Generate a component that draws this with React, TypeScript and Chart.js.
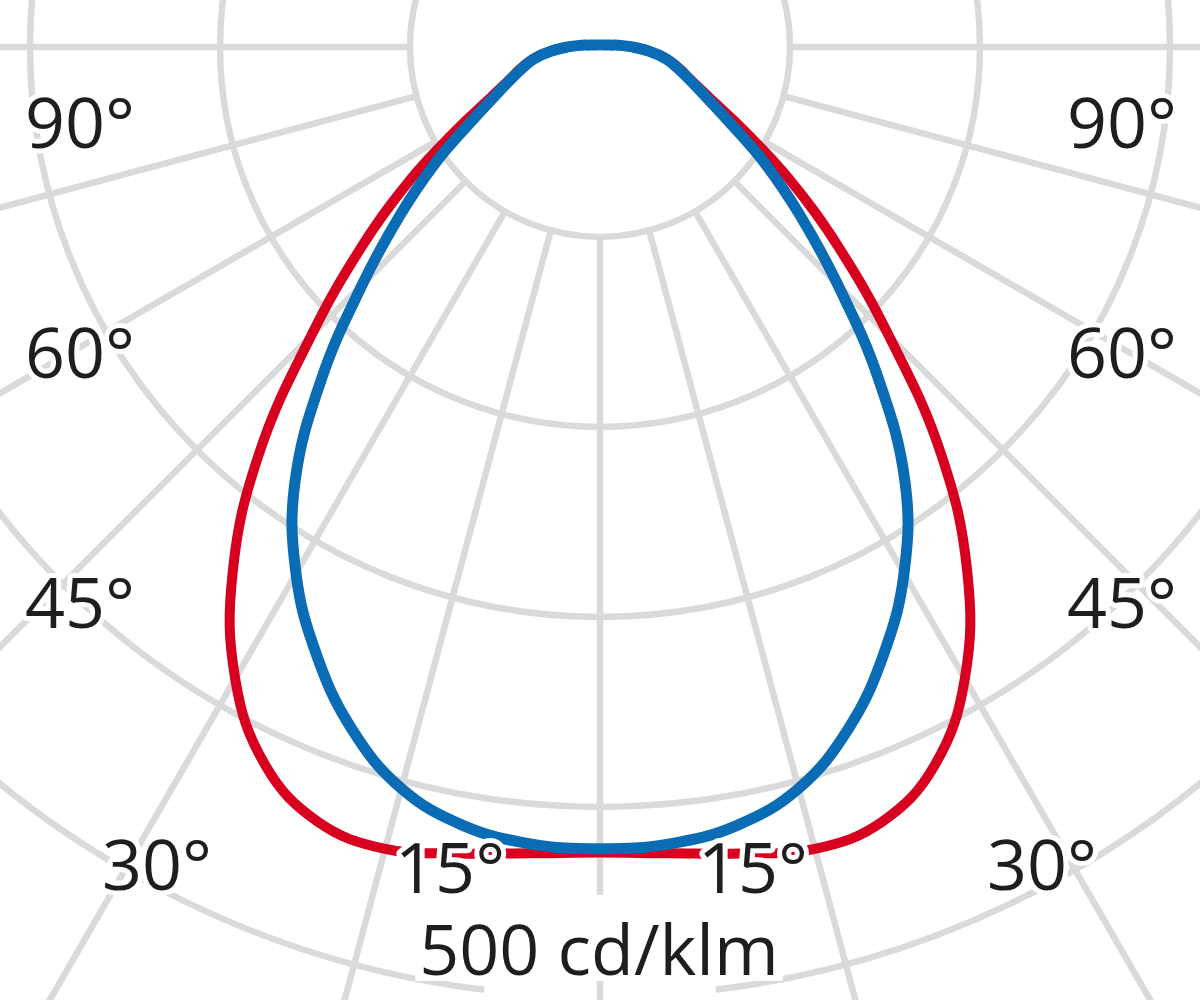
import React, { useEffect, useRef } from 'react';
import { Chart, registerables } from 'chart.js';

Chart.register(...registerables);

// Gamma angles (degrees from nadir); negative = left half of the diagram
const GAMMA = [
  -180, -150, -120, -100, -95, -90, -85, -80, -75, -70, -65, -60, -55, -50, -45, -40, -35, -30, -25, -20, -15, -10, -5,
  0, 5, 10, 15, 20, 25, 30, 35, 40, 45, 50, 55, 60, 65, 70, 75, 80, 85, 90, 95, 100, 120, 150, 180,
];

// Luminous intensity, cd/klm — C0/C180 plane (red)
const PLANE_C0_C180 = [
  1, 1.2, 2, 5.5, 10, 17, 26, 35.5, 43, 51, 64, 87, 122, 164, 215, 279, 337, 384, 417, 434, 437, 431, 426,
  424, 426, 431, 437, 434, 417, 384, 337, 279, 215, 164, 122, 87, 64, 51, 43, 35.5, 26, 17, 10, 5.5, 2, 1.2, 1,
];

// Luminous intensity, cd/klm — C90/C270 plane (blue)
const PLANE_C90_C270 = [
  1, 1.2, 2, 5.5, 10, 17, 26, 35, 42, 50, 61, 78, 105, 137, 177, 228, 280, 320, 353, 382, 404, 416, 421,
  422, 421, 416, 404, 382, 353, 320, 280, 228, 177, 137, 105, 78, 61, 50, 42, 35, 26, 17, 10, 5.5, 2, 1.2, 1,
];

const RING_VALUES = [100, 200, 300, 400, 500, 600];
const SPOKE_ANGLES = [0, 15, 30, 45, 60, 75, 90, 105, 120, 135, 150, 165, 180, 195, 210, 225, 240, 255, 270, 285, 300, 315, 330, 345];
const ANGLE_TICKS = ['90°', '60°', '45°', '30°', '15°'];
const UNIT_LABEL = '500 cd/klm';

// layout (data units, cd/klm), kept apart from the data
const VIEW = { xMin: -315.8, xMax: 315.8, yMin: -501.6, yMax: 24.7 };
const TICK_LAYOUT = [
  { tick: 0, x: -273.7, y: -53.2 },
  { tick: 1, x: -273.7, y: -174.2 },
  { tick: 2, x: -273.7, y: -305.8 },
  { tick: 3, x: -233.2, y: -443.7 },
  { tick: 4, x: -78.9, y: -445.3 },
  { tick: 4, x: 80.5, y: -445.3 },
  { tick: 3, x: 232.6, y: -443.7 },
  { tick: 2, x: 274.7, y: -305.8 },
  { tick: 1, x: 274.7, y: -174.2 },
  { tick: 0, x: 274.7, y: -53.2 },
];
const UNIT_LAYOUT = { x: -0.5, y: -488.4 };

function toXY(gammas: number[], values: number[]) {
  return gammas.map((g, i) => {
    const a = (g * Math.PI) / 180;
    return { x: values[i] * Math.sin(a), y: -values[i] * Math.cos(a) };
  });
}

const polarGrid = {
  id: 'polarGrid',
  beforeDatasetsDraw(chart: any) {
    const { ctx, scales } = chart;
    const sx = scales.x;
    const sy = scales.y;
    const cx = sx.getPixelForValue(0);
    const cy = sy.getPixelForValue(0);
    const k = (sx.getPixelForValue(100) - cx) / 100;
    ctx.save();
    ctx.strokeStyle = '#dadada';
    ctx.lineWidth = 6.5;
    RING_VALUES.forEach((v) => {
      ctx.beginPath();
      if (v === 500) {
        const gap = (7 * Math.PI) / 180;
        ctx.arc(cx, cy, v * k, Math.PI / 2 + gap, Math.PI / 2 - gap + 2 * Math.PI);
      } else {
        ctx.arc(cx, cy, v * k, 0, 2 * Math.PI);
      }
      ctx.stroke();
    });
    SPOKE_ANGLES.forEach((deg) => {
      const a = (deg * Math.PI) / 180;
      const dx = Math.sin(a);
      const dy = Math.cos(a);
      ctx.beginPath();
      ctx.moveTo(cx + dx * 100 * k, cy + dy * 100 * k);
      ctx.lineTo(cx + dx * 800 * k, cy + dy * 800 * k);
      ctx.stroke();
    });
    ctx.restore();
  },
  afterDatasetsDraw(chart: any) {
    const { ctx, scales } = chart;
    const sx = scales.x;
    const sy = scales.y;
    ctx.save();
    ctx.font = '70px "Open Sans"';
    ctx.textAlign = 'center';
    ctx.textBaseline = 'alphabetic';
    ctx.lineJoin = 'round';
    TICK_LAYOUT.forEach((l) => {
      const px = sx.getPixelForValue(l.x);
      const py = sy.getPixelForValue(l.y);
      const t = ANGLE_TICKS[l.tick];
      ctx.strokeStyle = '#ffffff';
      ctx.lineWidth = 10;
      ctx.strokeText(t, px, py);
      ctx.fillStyle = '#1e1e1e';
      ctx.fillText(t, px, py);
    });
    const ux = sx.getPixelForValue(UNIT_LAYOUT.x);
    const uy = sy.getPixelForValue(UNIT_LAYOUT.y);
    const w = ctx.measureText(UNIT_LABEL).width;
    ctx.fillStyle = '#ffffff';
    ctx.fillRect(ux - w / 2 - 4, uy - 80, w + 8, 86);
    ctx.fillStyle = '#1e1e1e';
    ctx.fillText(UNIT_LABEL, ux, uy);
    ctx.restore();
  },
};

export default function App() {
  const ref = useRef<HTMLCanvasElement | null>(null);
  useEffect(() => {
    document.body.style.margin = '0';
    if (!ref.current) return;
    const chart = new Chart(ref.current, {
      type: 'scatter',
      data: {
        datasets: [
          {
            label: 'C90/C270',
            data: toXY(GAMMA, PLANE_C90_C270),
            showLine: true,
            borderColor: '#0a6cb4',
            borderWidth: 11,
            pointRadius: 0,
            tension: 0.4,
            order: 0,
          },
          {
            label: 'C0/C180',
            data: toXY(GAMMA, PLANE_C0_C180),
            showLine: true,
            borderColor: '#d7001f',
            borderWidth: 10,
            pointRadius: 0,
            tension: 0.4,
            order: 1,
          },
        ],
      },
      options: {
        animation: false,
        responsive: false,
        devicePixelRatio: 1,
        layout: { padding: 0 },
        plugins: { legend: { display: false }, tooltip: { enabled: false } },
        scales: {
          x: { type: 'linear', min: VIEW.xMin, max: VIEW.xMax, display: false },
          y: { type: 'linear', min: VIEW.yMin, max: VIEW.yMax, display: false },
        },
      },
      plugins: [polarGrid],
    });
    return () => chart.destroy();
  }, []);
  return (
    <div style={{ width: 1200, height: 1000, background: '#ffffff' }}>
      <canvas ref={ref} width={1200} height={1000} />
    </div>
  );
}
